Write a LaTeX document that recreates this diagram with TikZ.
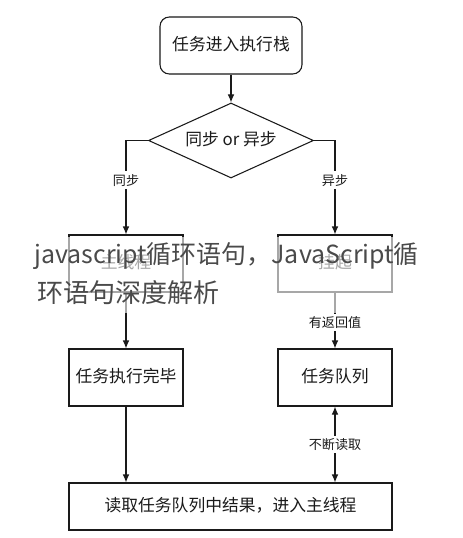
\documentclass[tikz,border=0pt]{standalone}
\usepackage{fontspec}
\setmainfont{Noto Sans CJK SC}
\usetikzlibrary{arrows.meta,shapes.geometric}
\definecolor{ink}{HTML}{1A1A1A}
\definecolor{wmgray}{HTML}{4A4A4A}
\tikzset{
  box/.style={draw=ink, line width=0.8pt, rectangle, inner sep=0pt,
    minimum width=114*0.75pt, minimum height=57*0.75pt,
    font=\fontsize{12.6pt}{14pt}\selectfont, text=ink,
    text height=0.88em, text depth=0.12em},
  startbox/.style={box, rounded corners=7pt, minimum width=142*0.75pt},
  widebox/.style={box, minimum width=323*0.75pt, minimum height=47*0.75pt},
  decision/.style={draw=ink, line width=0.8pt, diamond, inner sep=0pt, aspect=2.2,
    minimum width=165*0.75pt, minimum height=75*0.75pt,
    font=\fontsize{12.6pt}{14pt}\selectfont, text=ink,
    text height=0.88em, text depth=0.12em},
  arr/.style={draw=ink, line width=0.8pt, -{Latex[length=6pt,width=5pt]}},
  arrboth/.style={draw=ink, line width=0.8pt, {Latex[length=6pt,width=5pt]}-{Latex[length=6pt,width=5pt]}},
  lbl/.style={fill=white, inner sep=1.5pt, text=ink,
    font=\fontsize{9.8pt}{11pt}\selectfont, text height=0.88em, text depth=0.12em},
  wm/.style={anchor=west, inner sep=0pt, text=wmgray,
    font=\fontsize{19.5pt}{22pt}\selectfont, text height=0.88em, text depth=0.12em}
}
\begin{document}
\begin{tikzpicture}[x=0.75pt,y=-0.75pt]
\useasboundingbox[fill=white] (0,0) rectangle (462,538);

\node[startbox] (start) at (231,45.5) {任务进入执行栈};
\node[decision] (dec) at (231,140.5) {同步 or 异步};
\node[box] (mainth) at (126,263.5) {主线程};
\node[box] (hang) at (335,263.5) {挂起};
\node[box] (done) at (126,377.5) {任务执行完毕};
\node[box] (queue) at (335,377.5) {任务队列};
\node[widebox] (final) at (230.5,506.5) {读取任务队列中结果，进入主线程};

\draw[arr] (start) -- (dec);
\draw[arr] (dec.west) -| node[lbl, pos=0.71] {同步} (mainth.north);
\draw[arr] (dec.east) -| node[lbl, pos=0.71] {异步} (hang.north);
\draw[arr] (mainth) -- (done);
\draw[arr] (hang) -- node[lbl, pos=0.53] {有返回值} (queue);
\draw[arr] (done.south) -- (done.south |- final.north);
\draw[arrboth] (queue.south) -- node[lbl, pos=0.5] {不断读取} (queue.south |- final.north);

% watermark overlay
\fill[white, opacity=0.62] (33,237) rectangle (426,313);
\node[wm, font=\fontsize{18.7pt}{22pt}\selectfont] (wm1) at (34,258) {javascript循环语句，JavaScript循};
\node[wm] (wm2) at (37,297) {环语句深度解析};
\end{tikzpicture}
\end{document}
